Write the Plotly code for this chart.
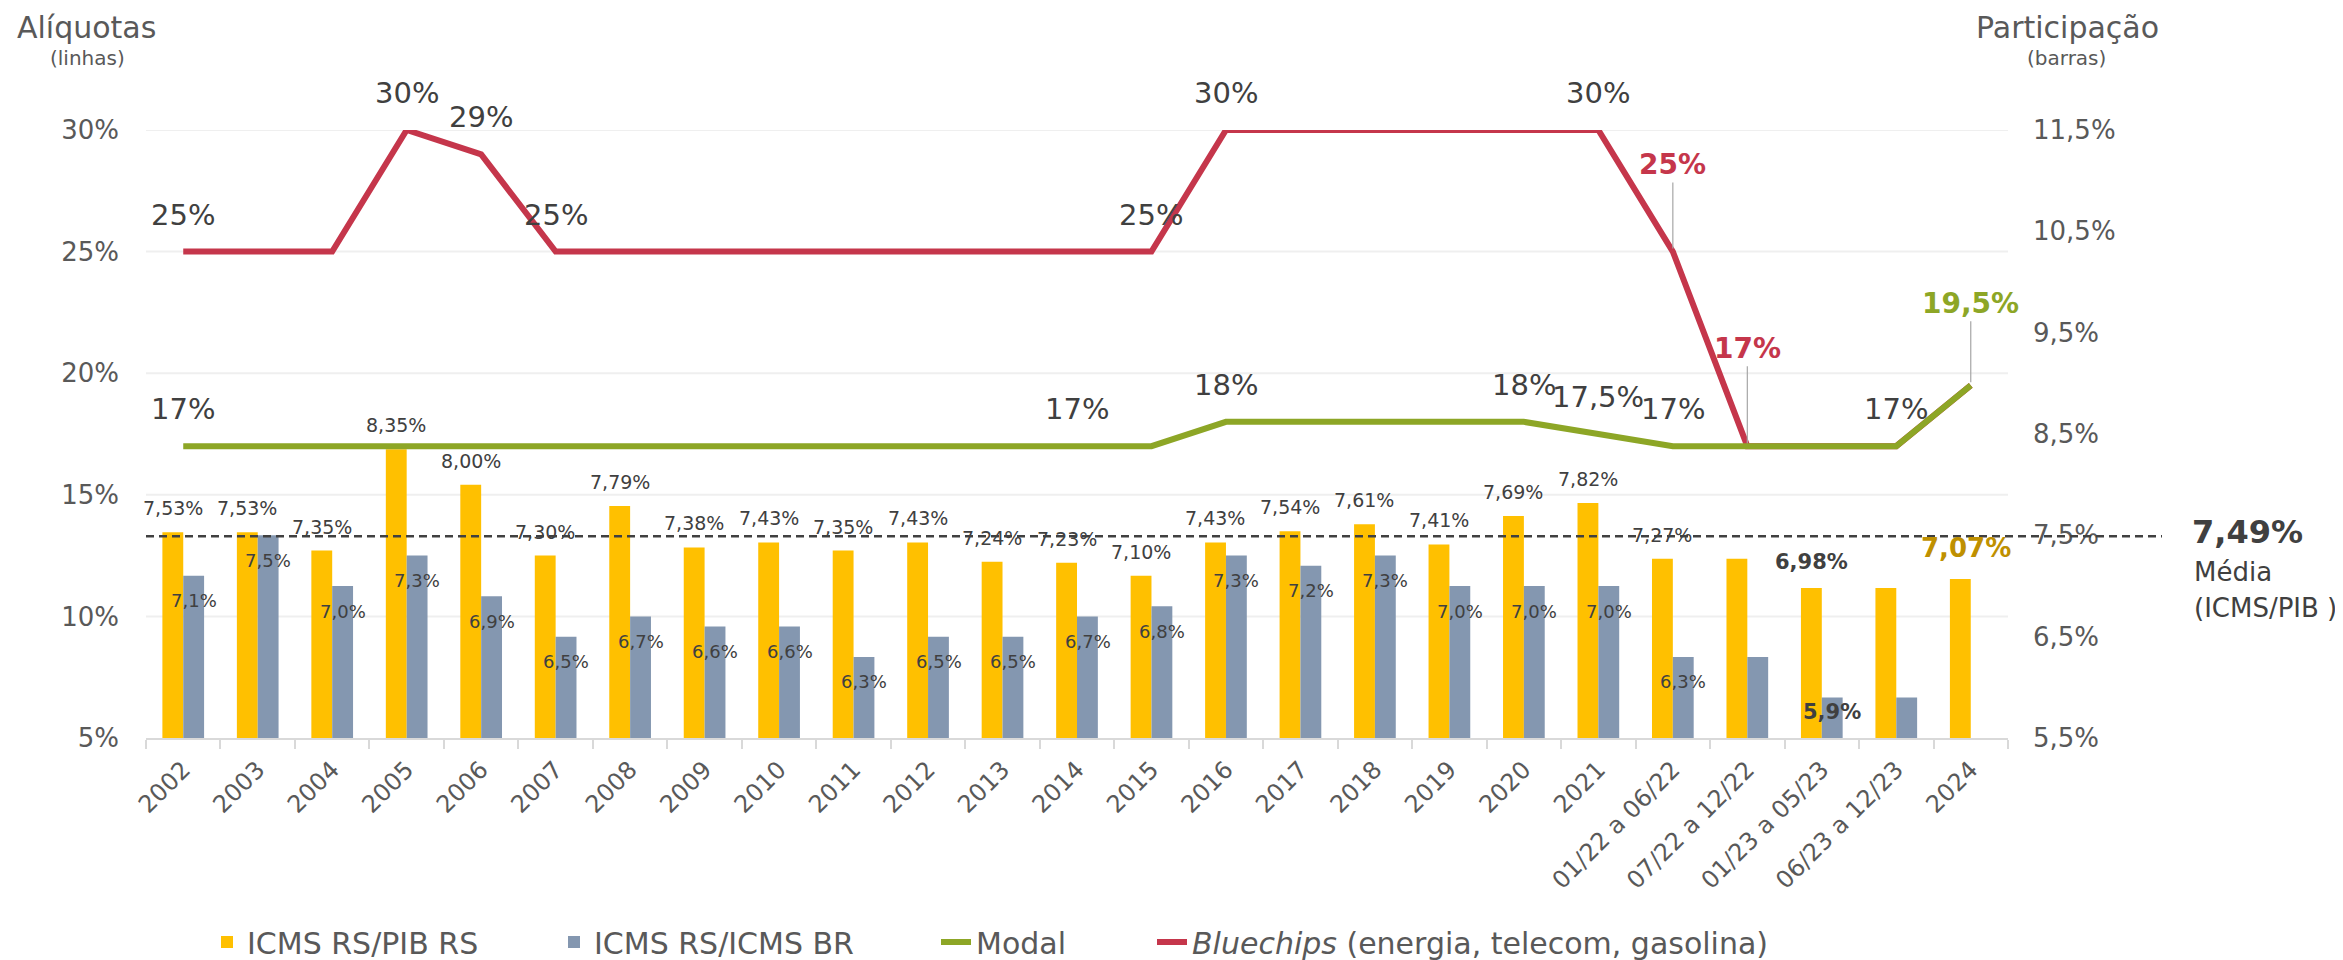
import plotly.graph_objects as go

# ---------------- data ----------------
categories = ["2002", "2003", "2004", "2005", "2006", "2007", "2008", "2009", "2010", "2011",
              "2012", "2013", "2014", "2015", "2016", "2017", "2018", "2019", "2020", "2021",
              "01/22 a 06/22", "07/22 a 12/22", "01/23 a 05/23", "06/23 a 12/23", "2024"]

icms_pib = [7.53, 7.53, 7.35, 8.35, 8.00, 7.30, 7.79, 7.38, 7.43, 7.35,
            7.43, 7.24, 7.23, 7.10, 7.43, 7.54, 7.61, 7.41, 7.69, 7.82,
            7.27, 7.27, 6.98, 6.98, 7.07]
icms_br = [7.1, 7.5, 7.0, 7.3, 6.9, 6.5, 6.7, 6.6, 6.6, 6.3,
           6.5, 6.5, 6.7, 6.8, 7.3, 7.2, 7.3, 7.0, 7.0, 7.0,
           6.3, 6.3, 5.9, 5.9, None]
modal = [17, 17, 17, 17, 17, 17, 17, 17, 17, 17,
         17, 17, 17, 17, 18, 18, 18, 18, 18, 17.5,
         17, 17, 17, 17, 19.5]
bluechips = [25, 25, 25, 30, 29, 25, 25, 25, 25, 25,
             25, 25, 25, 25, 30, 30, 30, 30, 30, 30,
             25, 17, 17, 17, 19.5]
media_icms_pib = 7.49

# which points carry labels
pib_labeled = [True] * 20 + [True, False, True, False, True]
br_labeled = [True] * 20 + [True, False, True, False, False]
modal_labels = [0, 12, 14, 18, 19, 20, 23]
modal_callout = [24]
blue_labels = [0, 3, 4, 5, 13, 14, 19]
blue_callout = [20, 21]

left_ticks = [5, 10, 15, 20, 25, 30]
left_ticktext = ["5%", "10%", "15%", "20%", "25%", "30%"]
right_ticks = [5.5, 6.5, 7.5, 8.5, 9.5, 10.5, 11.5]
right_ticktext = ["5,5%", "6,5%", "7,5%", "8,5%", "9,5%", "10,5%", "11,5%"]

# ---------------- style ----------------
FONT = "DejaVu Sans"
C_YEL = "#FFC000"
C_BLU = "#8497B0"
C_GRN = "#8DA626"
C_RED = "#C5364B"
C_TXT = "#404040"
C_AX = "#595959"
C_GOLD = "#BF9000"

OFF = 8  # page body margin
W, H = 2343 - OFF, 960 - OFF
L, T = 146 - OFF, 130 - OFF
PW, PH = 1862, 608
R, B = W - L - PW, H - T - PH


def px(x):
    return (x - OFF - L) / PW


def py(y):
    return (H - B - (y - OFF)) / PH


def pct(v, d=None):
    if d is None:
        s = ("%g" % v)
    else:
        s = f"{v:.{d}f}"
    return s.replace(".", ",") + "%"


fig = go.Figure()

fig.add_trace(go.Bar(x=categories, y=icms_pib, name="ICMS RS/PIB RS",
                     marker=dict(color=C_YEL, line=dict(width=0)), yaxis="y", legend="legend"))
fig.add_trace(go.Bar(x=categories, y=icms_br, name="ICMS RS/ICMS BR",
                     marker=dict(color=C_BLU, line=dict(width=0)), yaxis="y", legend="legend2"))
fig.add_trace(go.Scatter(x=categories, y=bluechips, name="<i>Bluechips</i> (energia, telecom, gasolina)",
                         mode="lines", line=dict(color=C_RED, width=6), yaxis="y2",
                         legend="legend4"))
fig.add_trace(go.Scatter(x=categories, y=modal, name="Modal", mode="lines",
                         line=dict(color=C_GRN, width=6), yaxis="y2", legend="legend3"))

ann = []
# bar labels (x given as category index so numeric-looking labels are not read as numbers)
for i, c in enumerate(categories):
    v = icms_pib[i]
    if pib_labeled[i]:
        if c == "2024":
            ann.append(dict(x=i, y=v, xref="x", yref="y", text="<b>" + pct(v, 2) + "</b>",
                            xshift=-5, yshift=31, showarrow=False,
                            font=dict(size=26, color=C_GOLD, family=FONT)))
        elif c == "01/23 a 05/23":
            ann.append(dict(x=i, y=v, xref="x", yref="y", text="<b>" + pct(v, 2) + "</b>",
                            xshift=-10.5, yshift=26, showarrow=False,
                            font=dict(size=21, color=C_TXT, family=FONT)))
        else:
            ann.append(dict(x=i, y=v, xref="x", yref="y", text=pct(v, 2),
                            xshift=-10.5, yshift=24, showarrow=False,
                            font=dict(size=19, color=C_TXT, family=FONT)))
    b = icms_br[i]
    if b is not None and br_labeled[i]:
        if c == "01/23 a 05/23":
            ann.append(dict(x=i, y=b, xref="x", yref="y", text="<b>" + pct(b, 1) + "</b>",
                            xshift=10.5, yshift=-15, showarrow=False,
                            font=dict(size=21, color=C_TXT, family=FONT)))
        else:
            ann.append(dict(x=i, y=b, xref="x", yref="y", text=pct(b, 1),
                            xshift=10.5, yshift=-25, showarrow=False,
                            font=dict(size=18, color=C_TXT, family=FONT)))

# line labels
for i in blue_labels:
    ann.append(dict(x=i, y=bluechips[i], xref="x", yref="y2", text=pct(bluechips[i]),
                    yshift=37, showarrow=False, font=dict(size=29, color=C_TXT, family=FONT)))
for i in modal_labels:
    ann.append(dict(x=i, y=modal[i], xref="x", yref="y2", text=pct(modal[i]),
                    yshift=37, showarrow=False, font=dict(size=29, color=C_TXT, family=FONT)))
callout_ay = {20: -87, 21: -98}
for i in blue_callout:
    ann.append(dict(x=i, y=bluechips[i], xref="x", yref="y2",
                    text="<b>" + pct(bluechips[i]) + "</b>", showarrow=True, arrowhead=0,
                    arrowwidth=1.2, arrowcolor="#A6A6A6", ax=0, ay=callout_ay[i],
                    xanchor="center", yanchor="middle", standoff=3,
                    font=dict(size=28, color=C_RED, family=FONT)))
for i in modal_callout:
    ann.append(dict(x=i, y=modal[i], xref="x", yref="y2",
                    text="<b>" + pct(modal[i]) + "</b>", showarrow=True, arrowhead=0,
                    arrowwidth=1.2, arrowcolor="#A6A6A6", ax=0, ay=-82,
                    xanchor="center", yanchor="middle", standoff=3,
                    font=dict(size=28, color=C_GRN, family=FONT)))

# titles
ann += [
    dict(x=px(86), y=py(27), xref="paper", yref="paper", text="Alíquotas", showarrow=False,
         font=dict(size=30, color=C_AX, family=FONT), xanchor="center", yanchor="middle"),
    dict(x=px(87), y=py(58), xref="paper", yref="paper", text="(linhas)", showarrow=False,
         font=dict(size=20, color=C_AX, family=FONT), xanchor="center", yanchor="middle"),
    dict(x=px(2067), y=py(27), xref="paper", yref="paper", text="Participação", showarrow=False,
         font=dict(size=30, color=C_AX, family=FONT), xanchor="center", yanchor="middle"),
    dict(x=px(2066), y=py(58), xref="paper", yref="paper", text="(barras)", showarrow=False,
         font=dict(size=20, color=C_AX, family=FONT), xanchor="center", yanchor="middle"),
    dict(x=px(2190), y=media_icms_pib, xref="paper", yref="y", text="<b>" + pct(media_icms_pib, 2) + "</b>",
         showarrow=False, font=dict(size=32, color=C_TXT, family=FONT),
         xanchor="left", yanchor="middle", yshift=4),
    dict(x=px(2192), y=py(572), xref="paper", yref="paper", text="Média", showarrow=False,
         font=dict(size=26, color=C_TXT, family=FONT), xanchor="left", yanchor="middle"),
    dict(x=px(2192), y=py(608), xref="paper", yref="paper", text="(ICMS/PIB )", showarrow=False,
         font=dict(size=26, color=C_TXT, family=FONT), xanchor="left", yanchor="middle"),
]

shapes = []
for t in left_ticks[1:]:
    shapes.append(dict(type="line", xref="paper", yref="y2", x0=0, x1=1, y0=t, y1=t,
                       line=dict(color="#EFEFEF", width=2), layer="below"))
shapes.append(dict(type="line", xref="paper", yref="y", x0=0, x1=px(2162),
                   y0=media_icms_pib, y1=media_icms_pib,
                   line=dict(color=C_TXT, width=2.5, dash="8px,5px"), layer="above"))


def leg(text_start):
    return dict(orientation="h", x=px(text_start - 42), y=py(942), xanchor="left",
                yanchor="middle", font=dict(size=30, color=C_AX, family=FONT),
                bgcolor="rgba(0,0,0,0)")


fig.update_layout(
    width=W, height=H,
    margin=dict(l=L, r=R, t=T, b=B, autoexpand=False),
    paper_bgcolor="white", plot_bgcolor="white",
    font=dict(family=FONT, color=C_AX),
    barmode="group", bargap=0.44, bargroupgap=0,
    showlegend=True,
    legend=leg(249), legend2=leg(596), legend3=leg(978), legend4=leg(1194),
    xaxis=dict(type="category", range=[-0.5, len(categories) - 0.5], autorange=False,
               tickangle=-45, tickfont=dict(size=24, color=C_AX),
               showline=True, linecolor="#D9D9D9", linewidth=2,
               ticks="outside", ticklen=9, tickcolor="#D9D9D9", tickwidth=2,
               tickson="boundaries", showgrid=False, ticklabelstandoff=6),
    yaxis=dict(side="right", range=[5.5, 11.5], autorange=False, tickvals=right_ticks,
               ticktext=right_ticktext,
               tickfont=dict(size=26, color=C_AX), showgrid=False, zeroline=False,
               showline=False, ticks="", ticklabelstandoff=24),
    yaxis2=dict(overlaying="y", side="left", range=[5, 30], autorange=False, tickvals=left_ticks,
                ticktext=left_ticktext, tickfont=dict(size=26, color=C_AX),
                showgrid=False, zeroline=False, showline=False, ticks="",
                ticklabelstandoff=26),
    annotations=ann,
    shapes=shapes,
)

fig.write_html("out.html")
